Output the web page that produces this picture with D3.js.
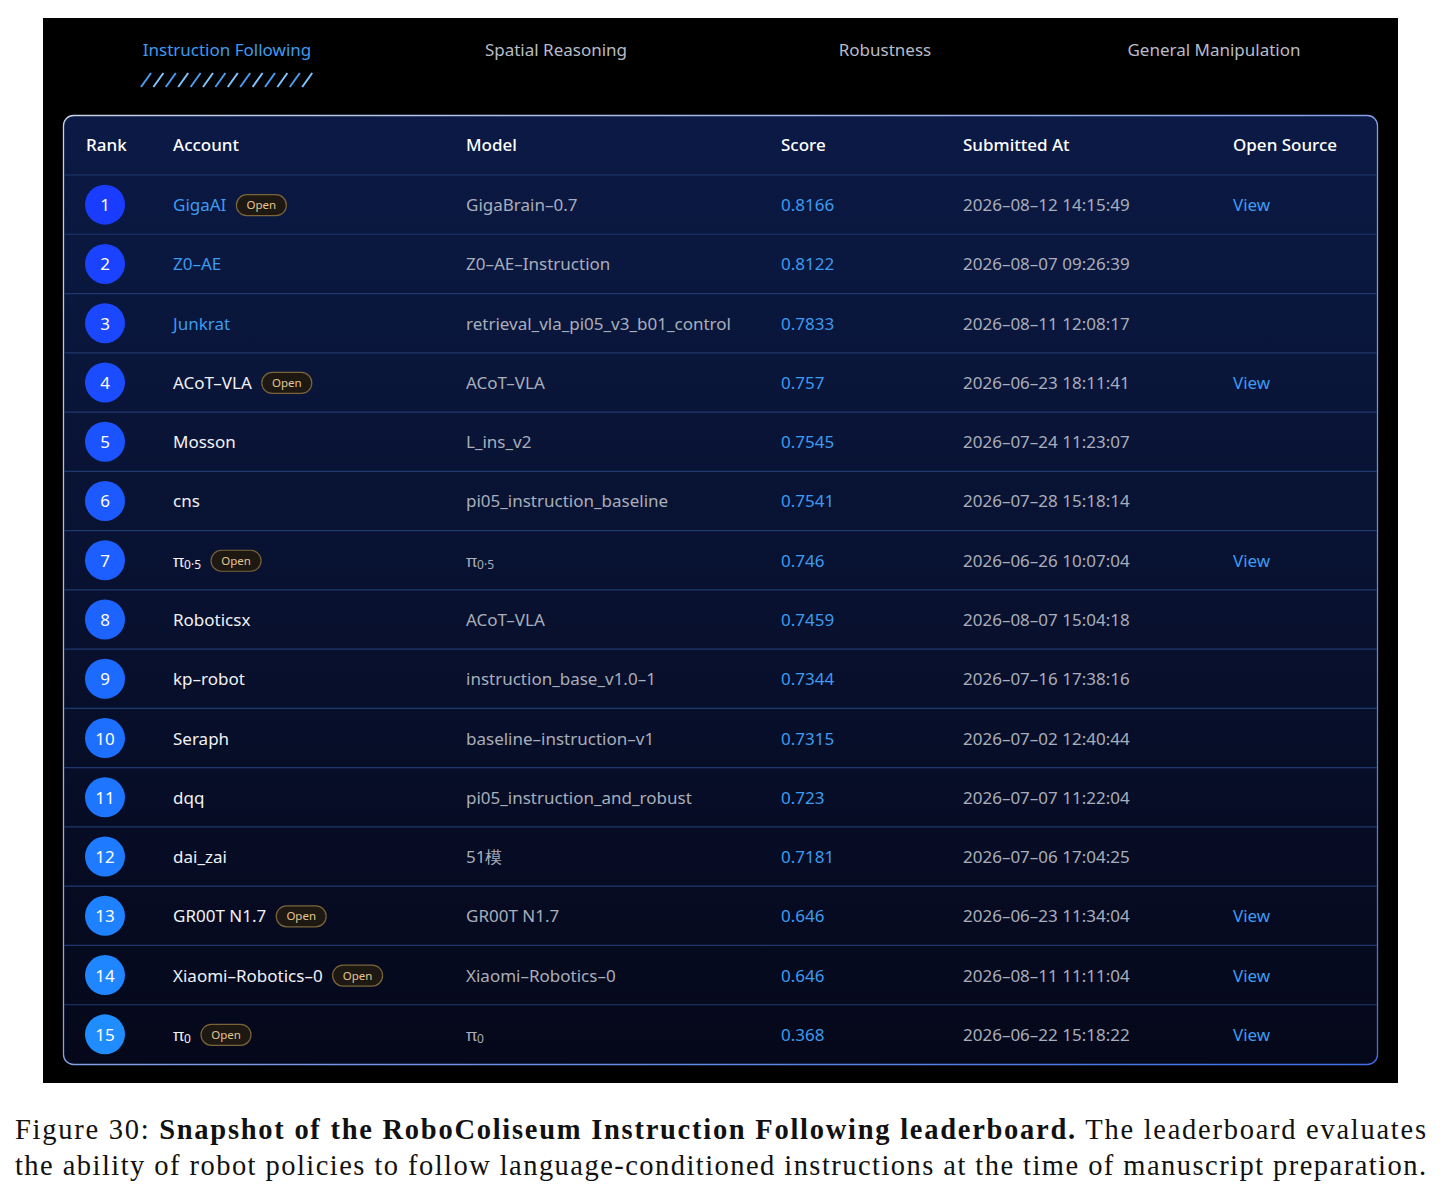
<!DOCTYPE html>
<html><head><meta charset="utf-8">
<script src="https://cdn.jsdelivr.net/npm/d3@7"></script>
<style>body{margin:0;background:#fff}</style>
</head><body>
<script>
const tabs = ["Instruction Following", "Spatial Reasoning", "Robustness", "General Manipulation"];
const columns = ["Rank", "Account", "Model", "Score", "Submitted At", "Open Source"];
const accounts = ["GigaAI", "Z0–AE", "Junkrat", "ACoT–VLA", "Mosson", "cns", "π0.5", "Roboticsx", "kp–robot", "Seraph", "dqq", "dai_zai", "GR00T N1.7", "Xiaomi–Robotics–0", "π0"];
const models = ["GigaBrain–0.7", "Z0–AE–Instruction", "retrieval_vla_pi05_v3_b01_control", "ACoT–VLA", "L_ins_v2", "pi05_instruction_baseline", "π0.5", "ACoT–VLA", "instruction_base_v1.0–1", "baseline–instruction–v1", "pi05_instruction_and_robust", "51模", "GR00T N1.7", "Xiaomi–Robotics–0", "π0"];
const scores = ["0.8166", "0.8122", "0.7833", "0.757", "0.7545", "0.7541", "0.746", "0.7459", "0.7344", "0.7315", "0.723", "0.7181", "0.646", "0.646", "0.368"];
const submitted = ["2026–08–12 14:15:49", "2026–08–07 09:26:39", "2026–08–11 12:08:17", "2026–06–23 18:11:41", "2026–07–24 11:23:07", "2026–07–28 15:18:14", "2026–06–26 10:07:04", "2026–08–07 15:04:18", "2026–07–16 17:38:16", "2026–07–02 12:40:44", "2026–07–07 11:22:04", "2026–07–06 17:04:25", "2026–06–23 11:34:04", "2026–08–11 11:11:04", "2026–06–22 15:18:22"];
const openFlag = [1,0,0,1,0,0,1,0,0,0,0,0,1,1,1];
const blueAccount = [1,1,1,0,0,0,0,0,0,0,0,0,0,0,0];

const W = 1442, H = 1190;
const font = "'Noto Sans', 'Open Sans', sans-serif";
const svg = d3.select("body").append("svg").attr("width", W).attr("height", H);
const defs = svg.append("defs");

const bg = defs.append("linearGradient").attr("id", "tbg").attr("x1", 0).attr("x2", 0).attr("y1", 0).attr("y2", 1);
bg.append("stop").attr("offset", 0).attr("stop-color", "#0b1a45");
bg.append("stop").attr("offset", 1).attr("stop-color", "#05081a");
const bd = defs.append("linearGradient").attr("id", "tbd").attr("x1", 0).attr("x2", 1).attr("y1", 0).attr("y2", 1);
bd.append("stop").attr("offset", 0).attr("stop-color", "#c8d2e6");
bd.append("stop").attr("offset", 1).attr("stop-color", "#3f6fe8");

svg.append("rect").attr("x", 43).attr("y", 18).attr("width", 1355).attr("height", 1065).attr("fill", "#000");

// tabs
const tx = d3.scalePoint().domain(tabs).range([227, 1214]);
svg.selectAll(".tab").data(tabs).join("text")
  .attr("x", d => tx(d)).attr("y", 56).attr("text-anchor", "middle")
  .attr("font-family", font).attr("font-size", 17)
  .attr("fill", (d, i) => i === 0 ? "#3d9bf0" : "#b8bcc6").text(d => d);
const hatch = svg.append("g");
d3.range(14).forEach(i => {
  const x0 = 141 + i * 12.4;
  hatch.append("line").attr("x1", x0).attr("y1", 87).attr("x2", x0 + 10).attr("y2", 73)
    .attr("stroke", i % 2 ? "#7fc4ff" : "#4a9cf0").attr("stroke-width", 2);
});

// table box
const tTop = 115, headH = 60, tBottom = 1064;
svg.append("rect").attr("x", 63.5).attr("y", tTop + 0.5).attr("width", 1314).attr("height", tBottom - tTop)
  .attr("rx", 10).attr("fill", "url(#tbg)").attr("stroke", "url(#tbd)").attr("stroke-width", 1.3);

const colX = [86, 173, 466, 781, 963, 1233];
svg.selectAll(".hd").data(columns).join("text")
  .attr("x", (d, i) => colX[i]).attr("y", 151).attr("font-family", font).attr("font-size", 17)
  .attr("font-weight", 500).attr("fill", "#fff").text(d => d);

const idx = d3.range(accounts.length);
const y = d3.scaleBand().domain(idx).range([tTop + headH, tBottom]);
const circ = d3.scaleLinear().domain([0, 14]).range(["#1a3cff", "#1f8cff"]);

const rows = svg.selectAll(".row").data(idx).join("g").attr("transform", i => `translate(0,${y(i)})`);
rows.append("line").attr("x1", 64).attr("x2", 1377).attr("y1", 0).attr("y2", 0)
  .attr("stroke", "#21396e").attr("stroke-width", 1.2);
const cy = y.bandwidth() / 2;
rows.append("circle").attr("cx", 105).attr("cy", cy).attr("r", 20).attr("fill", i => circ(i));
rows.append("text").attr("x", 105).attr("y", cy + 6.5).attr("text-anchor", "middle")
  .attr("font-family", font).attr("font-size", 17).attr("fill", "#fff").text(i => i + 1);

function piText(sel, s, color) {
  const m = s.match(/^π(.*)$/);
  if (m) {
    sel.append("tspan").text("π");
    sel.append("tspan").attr("font-size", 12).attr("dy", 2).text(m[1].replace(".", "·"));
  } else sel.text(s);
  sel.attr("fill", color);
}
const acc = rows.append("text").attr("class", "acc").attr("x", 173).attr("y", cy + 6.5)
  .attr("font-family", font).attr("font-size", 17);
acc.each(function (i) { piText(d3.select(this), accounts[i], blueAccount[i] ? "#3d9bf0" : "#f0f2f6"); });
rows.filter(i => openFlag[i]).each(function (i) {
  const g = d3.select(this);
  const w = g.select(".acc").node().getComputedTextLength();
  const bx = 173 + w + 10;
  g.append("rect").attr("x", bx).attr("y", cy - 10).attr("width", 50).attr("height", 21).attr("rx", 10.5)
    .attr("fill", "#1d1812").attr("stroke", "#7a6438").attr("stroke-width", 1.2);
  g.append("text").attr("x", bx + 25).attr("y", cy + 4.5).attr("text-anchor", "middle")
    .attr("font-family", font).attr("font-size", 11.5).attr("fill", "#e3c58f").text("Open");
});
rows.append("text").attr("x", 466).attr("y", cy + 6.5).attr("font-family", font).attr("font-size", 17)
  .each(function (i) { piText(d3.select(this), models[i], "#a9aebb"); });
rows.append("text").attr("x", 781).attr("y", cy + 6.5).attr("font-family", font).attr("font-size", 17)
  .attr("fill", "#3d9bf0").text(i => scores[i]);
rows.append("text").attr("x", 963).attr("y", cy + 6.5).attr("font-family", font).attr("font-size", 17)
  .attr("fill", "#a9aebb").text(i => submitted[i]);
rows.filter(i => openFlag[i]).append("text").attr("x", 1233).attr("y", cy + 6.5).attr("font-family", font)
  .attr("font-size", 17).attr("fill", "#3d9bf0").text("View");

// caption
const cap = svg.append("text").attr("x", 15).attr("y", 1139).attr("font-family", "'Liberation Serif', serif")
  .attr("font-size", 28.5).attr("fill", "#111").attr("textLength", 1411);
cap.append("tspan").text("Figure 30: ");
cap.append("tspan").attr("font-weight", "bold").text("Snapshot of the RoboColiseum Instruction Following leaderboard.");
cap.append("tspan").text(" The leaderboard evaluates");
svg.append("text").attr("x", 15).attr("y", 1175).attr("font-family", "'Liberation Serif', serif")
  .attr("font-size", 28.5).attr("fill", "#111").attr("textLength", 1411)
  .text("the ability of robot policies to follow language-conditioned instructions at the time of manuscript preparation.");
</script>
</body></html>
